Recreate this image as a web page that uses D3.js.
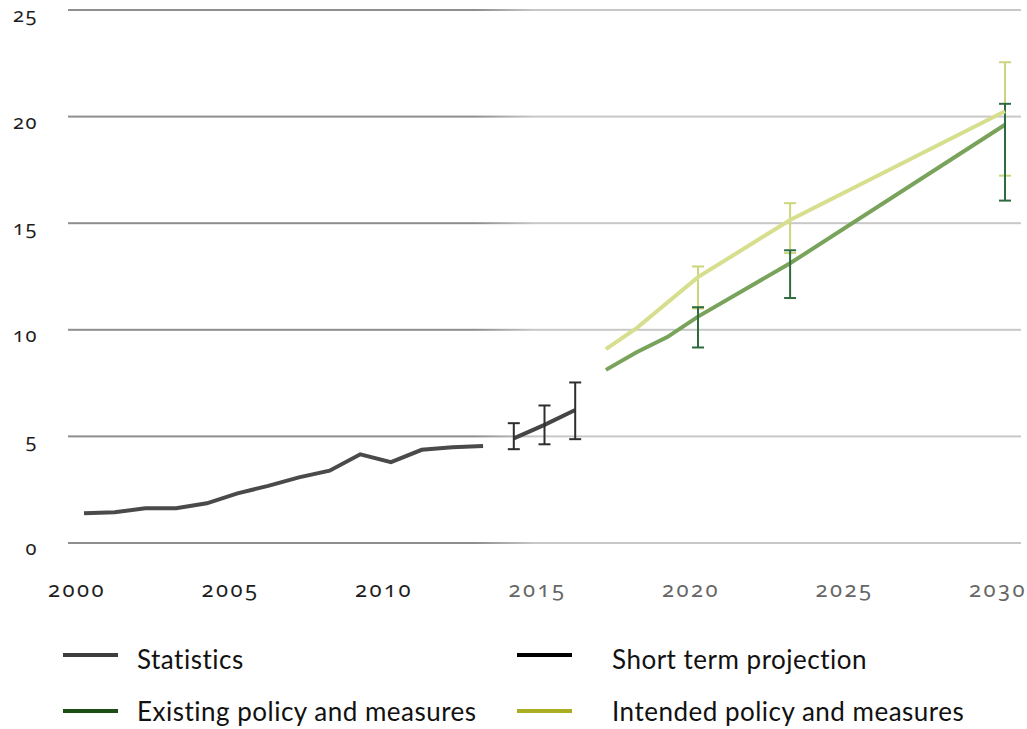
<!DOCTYPE html>
<html>
<head>
<meta charset="utf-8">
<script src="https://cdn.jsdelivr.net/npm/d3@7"></script>
<style>
  html, body { margin: 0; padding: 0; background: #fff; }
  svg { display: block; }
  .tick-num { font-family: "Noto Sans", sans-serif; font-variant-numeric: oldstyle-nums; font-feature-settings: "onum" 1; }
  .legend-text { font-family: Lato, "Open Sans", sans-serif; }
</style>
</head>
<body>
<svg id="chart" width="1027" height="729"></svg>
<script>
// Historical statistics, 2000–2013
const statYears  = [2000, 2001, 2002, 2003, 2004, 2005, 2006, 2007, 2008, 2009, 2010, 2011, 2012, 2013];
const statValues = [1.39, 1.44, 1.63, 1.63, 1.86, 2.33, 2.68, 3.08, 3.39, 4.16, 3.79, 4.37, 4.49, 4.55];

// Short term projection with uncertainty range
const shortYears = [2014, 2015, 2016];
const shortValues = [4.91, 5.54, 6.24];
const shortLow    = [4.40, 4.63, 4.87];
const shortHigh   = [5.62, 6.45, 7.53];

// Existing policy and measures
const existYears  = [2017, 2018, 2019, 2020, 2023, 2030];
const existValues = [8.12, 8.95, 9.66, 10.62, 13.12, 19.62];
const existBarYears = [2020, 2023, 2030];
const existLow   = [9.17, 11.49, 16.06];
const existHigh  = [11.06, 13.73, 20.60];

// Intended policy and measures
const intYears  = [2017, 2018, 2020, 2023, 2030];
const intValues = [9.09, 10.08, 12.47, 15.15, 20.25];
const intBarYears = [2020, 2023, 2030];
const intLow    = [11.0, 13.6, 17.23];
const intHigh   = [12.97, 15.94, 22.55];

// Axis ticks
const xTicks = [2000, 2005, 2010, 2015, 2020, 2025, 2030];
const yTicks = [0, 5, 10, 15, 20, 25];

// Legend entries
const legendLabels = ["Statistics", "Short term projection", "Existing policy and measures", "Intended policy and measures"];
const legendColors = ["#3d3d3d", "#000000", "#1c4f14", "#a9ae22"];

const svg = d3.select("#chart");
const x = d3.scaleLinear().domain([2000, 2030]).range([84, 1005]);
const y = d3.scaleLinear().domain([0, 25]).range([543, 10]);

// Grid line gradient: darker over the historical part, lighter over projections
const defs = svg.append("defs");
const grad = defs.append("linearGradient")
  .attr("id", "gridGrad").attr("gradientUnits", "userSpaceOnUse")
  .attr("x1", 68).attr("x2", 1021).attr("y1", 0).attr("y2", 0);
grad.append("stop").attr("offset", 0).attr("stop-color", "#8e8e8e");
grad.append("stop").attr("offset", (475 - 68) / (1021 - 68)).attr("stop-color", "#8e8e8e");
grad.append("stop").attr("offset", (535 - 68) / (1021 - 68)).attr("stop-color", "#c8c8c8");
grad.append("stop").attr("offset", 1).attr("stop-color", "#c8c8c8");

svg.append("g").selectAll("rect")
  .data(yTicks)
  .join("rect")
  .attr("x", 68).attr("width", 1021 - 68)
  .attr("y", d => y(d) - 1).attr("height", 2)
  .attr("fill", "url(#gridGrad)");

// Y tick labels
svg.append("g").selectAll("text")
  .data(yTicks)
  .join("text")
  .attr("class", "tick-num")
  .attr("x", 38).attr("y", d => y(d) + 12)
  .attr("text-anchor", "end")
  .attr("font-size", 20)
  .attr("letter-spacing", 1.5)
  .attr("fill", "#1e1e1e")
  .text(d => d);

// X tick labels
svg.append("g").selectAll("text")
  .data(xTicks)
  .join("text")
  .attr("class", "tick-num")
  .attr("x", d => x(d) - 7).attr("y", 597)
  .attr("text-anchor", "middle")
  .attr("font-size", 22)
  .attr("letter-spacing", 2.5)
  .attr("fill", d => d <= 2010 ? "#1e1e1e" : "#666666")
  .text(d => d);

const line = d3.line().x(d => x(d[0])).y(d => y(d[1]));

function drawBars(years, low, high, color, width, cap) {
  const g = svg.append("g").attr("stroke", color).attr("stroke-width", width).attr("fill", "none");
  years.forEach((yr, i) => {
    g.append("line").attr("x1", x(yr)).attr("x2", x(yr)).attr("y1", y(low[i])).attr("y2", y(high[i]));
    g.append("line").attr("x1", x(yr) - cap).attr("x2", x(yr) + cap).attr("y1", y(low[i])).attr("y2", y(low[i]));
    g.append("line").attr("x1", x(yr) - cap).attr("x2", x(yr) + cap).attr("y1", y(high[i])).attr("y2", y(high[i]));
  });
}

// Statistics
svg.append("path")
  .datum(statYears.map((d, i) => [d, statValues[i]]))
  .attr("d", line).attr("fill", "none")
  .attr("stroke", "#4a4a4a").attr("stroke-width", 4);

// Short term projection
svg.append("path")
  .datum(shortYears.map((d, i) => [d, shortValues[i]]))
  .attr("d", line).attr("fill", "none")
  .attr("stroke", "#454545").attr("stroke-width", 4);
drawBars(shortYears, shortLow, shortHigh, "#2e2e2e", 2, 6);

// Intended policy error bars (drawn beneath existing ones)
drawBars(intBarYears, intLow, intHigh, "#cdd57c", 2, 6);

// Existing policy line and bars
svg.append("path")
  .datum(existYears.map((d, i) => [d, existValues[i]]))
  .attr("d", line).attr("fill", "none")
  .attr("stroke", "#79a25b").attr("stroke-width", 4);
drawBars(existBarYears, existLow, existHigh, "#2f6b40", 2, 6);

// Intended policy line
svg.append("path")
  .datum(intYears.map((d, i) => [d, intValues[i]]))
  .attr("d", line).attr("fill", "none")
  .attr("stroke", "#d7de8d").attr("stroke-width", 4);

// Legend
const legendPos = [[63, 655], [517, 655], [63, 711], [517, 711]];
const leg = svg.append("g");
legendLabels.forEach((lab, i) => {
  const [lx, ly] = legendPos[i];
  leg.append("rect").attr("x", lx).attr("y", ly - 2).attr("width", 55).attr("height", 4).attr("fill", legendColors[i]);
  leg.append("text").attr("class", "legend-text")
    .attr("x", lx + (i % 2 === 0 ? 74 : 95)).attr("y", ly + (i < 2 ? 14 : 10))
    .attr("font-size", 26).attr("letter-spacing", 0.5).attr("fill", "#111")
    .text(lab);
});
</script>
</body>
</html>
